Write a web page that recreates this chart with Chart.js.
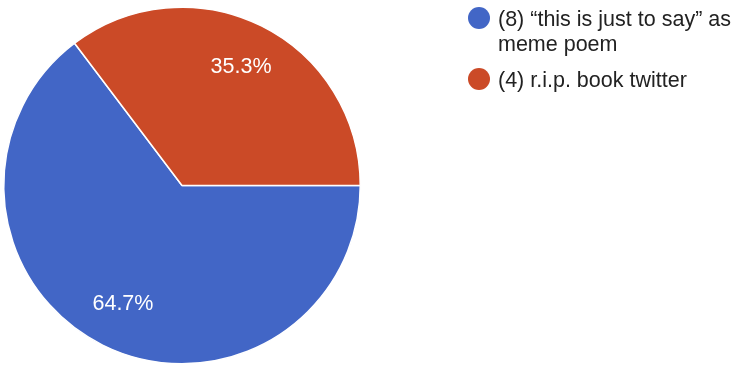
<!DOCTYPE html>
<html>
<head>
<meta charset="utf-8">
<script src="https://cdn.jsdelivr.net/npm/chart.js@4"></script>
<style>
  body { margin: 0; background: #fff; font-family: "Liberation Sans", Arial, sans-serif; }
  #wrap { position: relative; width: 739px; height: 369px; }
  #legend { position: absolute; left: 467px; top: 7px; width: 272px; }
  .item { position: relative; padding-left: 31px; font-size: 21.5px; line-height: 25px; color: #222; margin-bottom: 11px; }
  .dot { position: absolute; left: 1px; top: 0px; width: 22px; height: 22px; border-radius: 50%; }
</style>
</head>
<body>
<div id="wrap">
  <canvas id="chart" width="739" height="369"></canvas>
  <div id="legend"></div>
</div>
<script>
var labels = ['(8) \u201cthis is just to say\u201d as meme poem', '(4) r.i.p. book twitter'];
var values = [11, 6];
var colors = ['#4266c6', '#cb4a27'];

// percent labels inside the slices
var pctLabels = {
    id: 'pctLabels',
    afterDatasetsDraw: function(chart) {
        var ctx = chart.ctx;
        var total = values.reduce(function(a, b) { return a + b; }, 0);
        chart.getDatasetMeta(0).data.forEach(function(arc, i) {
            var mid = (arc.startAngle + arc.endAngle) / 2;
            var r = arc.outerRadius * 0.743;
            ctx.save();
            ctx.fillStyle = '#fff';
            ctx.font = '21.5px "Liberation Sans", Arial, sans-serif';
            ctx.textAlign = 'center';
            ctx.textBaseline = 'middle';
            ctx.fillText((values[i] / total * 100).toFixed(1) + '%', arc.x + Math.cos(mid) * r, arc.y + Math.sin(mid) * r);
            ctx.restore();
        });
    }
};

new Chart(document.getElementById('chart'), {
    type: 'pie',
    data: {
        labels: labels,
        datasets: [{
            data: values,
            backgroundColor: colors,
            borderColor: '#ffffff',
            borderWidth: 1.5
        }]
    },
    options: {
        responsive: false,
        animation: false,
        rotation: 90,
        layout: { padding: { left: 3, right: 378, top: 6, bottom: 4 } },
        plugins: {
            legend: { display: false },
            tooltip: { enabled: false }
        }
    },
    plugins: [pctLabels]
});

var legend = document.getElementById('legend');
labels.forEach(function(l, i) {
    var d = document.createElement('div');
    d.className = 'item';
    d.innerHTML = '<span class="dot" style="background:' + colors[i] + '"></span>';
    d.appendChild(document.createTextNode(l));
    legend.appendChild(d);
});
</script>
</body>
</html>
